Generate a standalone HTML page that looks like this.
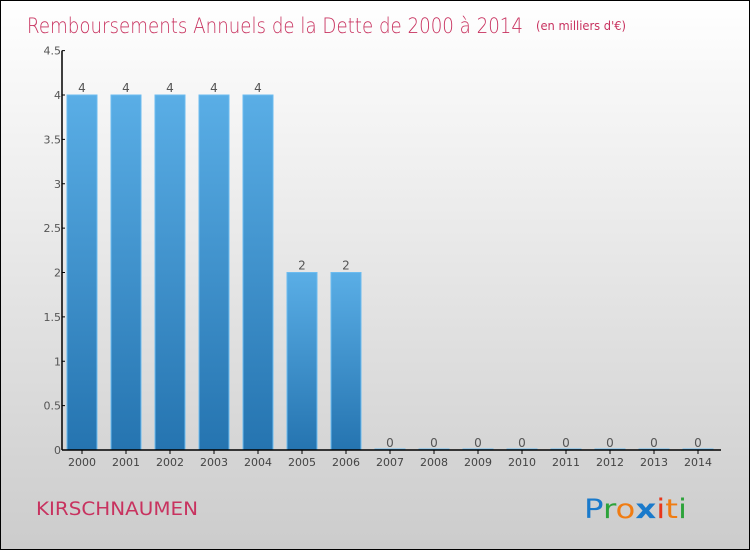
<!DOCTYPE html>
<html><head><meta charset="utf-8"><style>
body{margin:0;}
#c{position:relative;width:748px;height:548px;border:1px solid #000;background:linear-gradient(#fff,#ccc);overflow:hidden;font-family:"DejaVu Sans","Liberation Sans",sans-serif;}
svg{position:absolute;left:0;top:0}
</style></head><body>
<div id="c">
<svg id="s" width="748" height="548">
<defs><linearGradient id="g" x1="0" y1="0" x2="0" y2="1"><stop offset="0" stop-color="#5aaee6"/><stop offset="1" stop-color="#2574b0"/></linearGradient></defs>
<text x="26" y="32" font-size="21" fill="#c8325f" font-family="'DejaVu Sans',sans-serif" style="font-weight:200" textLength="496" lengthAdjust="spacingAndGlyphs">Remboursements Annuels de la Dette de 2000 à 2014</text>
<text x="535" y="29" font-size="12" fill="#c8325f" textLength="90" lengthAdjust="spacingAndGlyphs">(en milliers d'€)</text>
<text x="35" y="514" font-size="19" fill="#c8325f" textLength="162" lengthAdjust="spacingAndGlyphs">KIRSCHNAUMEN</text>
<text x="583" y="517" font-size="27" font-family="'DejaVu Sans',sans-serif" textLength="103" lengthAdjust="spacingAndGlyphs"><tspan fill="#1a7acb">P</tspan><tspan fill="#2da33a">r</tspan><tspan fill="#f07c12">o</tspan><tspan fill="#1a7acb" font-weight="bold">x</tspan><tspan fill="#e8361a">i</tspan><tspan fill="#f07c12">t</tspan><tspan fill="#2da33a">i</tspan></text>
<g id="plot"></g>
</svg></div>
<script>
const years=["2000","2001","2002","2003","2004","2005","2006","2007","2008","2009","2010","2011","2012","2013","2014"];
const values=[4,4,4,4,4,2,2,0,0,0,0,0,0,0,0];
const yTicks=[0,0.5,1,1.5,2,2.5,3,3.5,4,4.5];
const yTickLabels=["0","0.5","1","1.5","2","2.5","3","3.5","4","4.5"];
const ns="http://www.w3.org/2000/svg";
const g=document.getElementById('plot');
const x0=61,xEnd=720,y0=449,yScale=88.75;
const yPos=v=>y0-v*yScale;
const xPos=i=>81+i*44;
function mk(t,a,txt){const e=document.createElementNS(ns,t);for(const k in a)e.setAttribute(k,a[k]);if(txt!==undefined)e.textContent=txt;g.appendChild(e);return e;}
values.forEach((v,i)=>{
 const h=v*yScale;
 const r=mk('rect',{x:xPos(i)-15,y:yPos(v)-(v?0:1),width:30,height:Math.max(h,1),fill:'url(#g)',stroke:'#6cbcf0','stroke-width':1});
 
 
 const l=mk('text',{x:xPos(i),y:yPos(v)-3,'font-size':12,fill:'#555','text-anchor':'middle'},String(v));
 
 
 const t=mk('text',{x:xPos(i),y:y0+16,'font-size':11,fill:'#444','text-anchor':'middle'},years[i]);
 
 
 const tk=mk('line',{x1:xPos(i),x2:xPos(i),y1:y0,y2:y0+4,stroke:'#000'});
 
 
});
yTicks.forEach((v,i)=>{
 const t=mk('text',{x:x0-1,y:yPos(v)+4,'font-size':11,fill:'#555','text-anchor':'end'},yTickLabels[i]);
 
 
 const tk=mk('line',{x1:x0,x2:x0+3,y1:yPos(v),y2:yPos(v),stroke:'#000'});
 
 
});
const ya=mk('line',{x1:x0,x2:x0,y1:yPos(4.5),y2:y0,stroke:'#000','stroke-width':1.5});


const xa=mk('line',{x1:x0,x2:xEnd,y1:y0,y2:y0,stroke:'#000','stroke-width':1.5});


</script>
</body></html>
